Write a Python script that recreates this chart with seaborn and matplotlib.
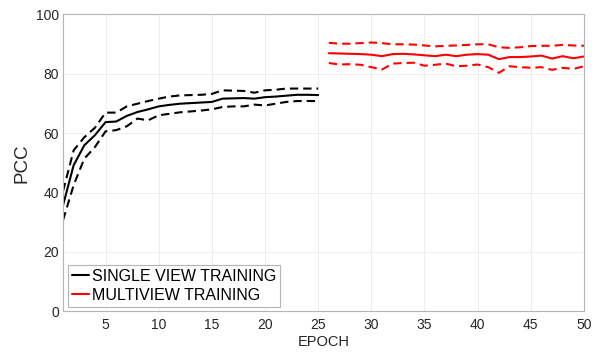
import numpy as np
import pandas as pd
import seaborn as sns
from matplotlib import pyplot as plt

# single view training, epochs 1-25
single_epoch = list(range(1, 26))
single_mean = [35.7, 49.2, 55.9, 59.3, 63.7, 63.9, 65.8, 67.1, 68.0, 69.0,
               69.5, 69.9, 70.1, 70.3, 70.5, 71.6, 71.7, 71.8, 71.6, 72.1,
               72.3, 72.6, 72.9, 72.9, 72.8]
single_upper = [40.5, 54.2, 58.6, 61.8, 66.9, 66.9, 69.0, 69.9, 70.8, 71.6,
                72.3, 72.7, 72.8, 72.9, 73.2, 74.4, 74.3, 74.2, 73.6, 74.4,
                74.6, 75.0, 75.0, 75.0, 75.0]
single_lower = [30.7, 42.5, 51.4, 55.3, 60.6, 61.0, 62.3, 64.9, 64.3, 66.0,
                66.5, 67.0, 67.3, 67.6, 68.0, 68.8, 69.0, 69.0, 69.6, 69.3,
                69.9, 70.5, 70.8, 70.8, 70.8]

# multiview training, epochs 26-50
multi_epoch = list(range(26, 51))
multi_mean = [86.9, 86.8, 86.7, 86.6, 86.4, 85.9, 86.6, 86.7, 86.5, 86.2,
              85.9, 86.4, 85.9, 86.4, 86.6, 86.4, 84.9, 85.6, 85.6, 85.8,
              86.1, 85.1, 85.9, 85.2, 85.8]
multi_upper = [90.4, 90.1, 90.1, 90.3, 90.5, 90.3, 89.9, 89.9, 89.8, 89.5,
               89.2, 89.4, 89.5, 89.7, 89.9, 89.9, 88.9, 88.7, 88.9, 89.3,
               89.4, 89.4, 89.7, 89.5, 89.4]
multi_lower = [83.6, 83.1, 83.2, 83.0, 82.2, 81.4, 83.4, 83.6, 83.7, 82.7,
               83.0, 83.4, 82.5, 82.7, 83.1, 82.2, 80.3, 82.5, 82.2, 82.0,
               82.2, 81.3, 82.0, 81.6, 82.5]

df_single = pd.DataFrame({'epoch': single_epoch, 'mean': single_mean,
                          'upper': single_upper, 'lower': single_lower})
df_multi = pd.DataFrame({'epoch': multi_epoch, 'mean': multi_mean,
                         'upper': multi_upper, 'lower': multi_lower})

sns.set_style("whitegrid")
plt.rcParams['font.family'] = ['Liberation Sans', 'DejaVu Sans']
plt.rcParams['lines.dashed_pattern'] = [4, 2.4]

fig, ax = plt.subplots(figsize=(6.02, 3.53), dpi=100)
fig.subplots_adjust(left=0.1047, right=0.97, bottom=0.118, top=0.9595)

lw = 1.5
sns.lineplot(x='epoch', y='mean', data=df_single, color='black', lw=lw,
             label='SINGLE VIEW TRAINING', ax=ax)
sns.lineplot(x='epoch', y='upper', data=df_single, color='black', lw=lw,
             linestyle='--', ax=ax)
sns.lineplot(x='epoch', y='lower', data=df_single, color='black', lw=lw,
             linestyle='--', ax=ax)
sns.lineplot(x='epoch', y='mean', data=df_multi, color='red', lw=lw,
             label='MULTIVIEW TRAINING', ax=ax)
sns.lineplot(x='epoch', y='upper', data=df_multi, color='red', lw=lw,
             linestyle='--', ax=ax)
sns.lineplot(x='epoch', y='lower', data=df_multi, color='red', lw=lw,
             linestyle='--', ax=ax)

ax.set_xlim(1, 50)
ax.set_ylim(0, 100)
ax.set_xticks(np.arange(5, 51, 5))
ax.set_yticks(np.arange(0, 101, 20))
ax.grid(True, color='#ebebeb', linewidth=0.6)
for s in ax.spines.values():
    s.set_visible(True)
    s.set_color('#b5b5b5')
    s.set_linewidth(0.8)
ax.tick_params(direction='in', length=3.5, width=0.6, color='#b5b5b5',
               labelcolor='#262626', labelsize=10)
ax.tick_params(axis='x', pad=5)
ax.tick_params(axis='y', pad=3)

ax.set_xlabel('EPOCH', fontsize=10.5, color='#262626', labelpad=2)
ax.set_ylabel('PCC', fontsize=13.5, color='#262626', labelpad=4)

leg = ax.legend(loc='lower left', fontsize=11.5, handlelength=1.1,
                handletextpad=0.15, labelspacing=0.25, borderaxespad=0.3,
                borderpad=0.25, fancybox=False, framealpha=1)
leg.get_frame().set_edgecolor('#b5b5b5')
leg.get_frame().set_linewidth(0.8)
for t in leg.get_texts():
    t.set_color('black')

plt.savefig('out.png', dpi=100)
